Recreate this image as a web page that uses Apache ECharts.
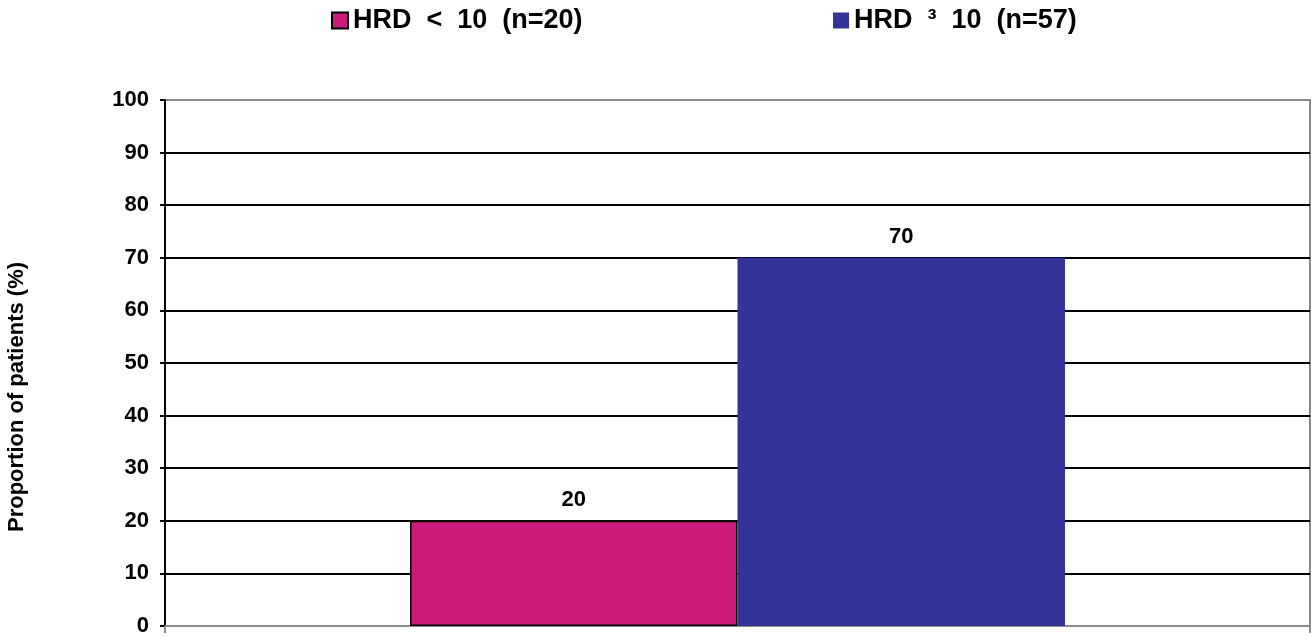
<!DOCTYPE html>
<html>
<head>
<meta charset="utf-8">
<script src="https://cdn.jsdelivr.net/npm/echarts@6/dist/echarts.min.js"></script>
<style>
  html, body { margin: 0; padding: 0; background: #fff; }
  #chart { width: 1311px; height: 637px; }
</style>
</head>
<body>
<div id="chart"></div>
<script>
// Groups and their values (% of patients)
const categories = [''];
const seriesNames = ['HRD  <  10  (n=20)', 'HRD  \u00B3  10  (n=57)'];
const lowHrd = [20];
const highHrd = [70];
const yTicks = [0, 10, 20, 30, 40, 50, 60, 70, 80, 90, 100];
const yTitle = 'Proportion of patients (%)';

const FONT = '"Liberation Sans", Arial, sans-serif';

// grid lines: bottom and top ones are the grey frame, the rest black
const splitColors = yTicks.map((v, i) => (i === 0 || i === yTicks.length - 1) ? '#8a8a8a' : '#000');

const legendText = { fontFamily: FONT, fontWeight: 'bold', fontSize: 27, color: '#000' };
const valueLabel = {
  show: true, position: 'top', distance: 10,
  fontFamily: FONT, fontWeight: 'bold', fontSize: 22, color: '#000'
};

const chart = echarts.init(document.getElementById('chart'), null, { renderer: 'canvas' });
chart.setOption({
  backgroundColor: '#fff',
  animation: false,
  textStyle: { fontFamily: FONT },
  grid: {
    left: 165, right: 1, top: 100, bottom: 10,
    show: true, borderColor: '#8a8a8a', borderWidth: 2, backgroundColor: 'transparent'
  },
  legend: [
    {
      data: [seriesNames[0]], left: 326, top: 2, icon: 'rect',
      itemWidth: 16, itemHeight: 16, itemGap: 10, textStyle: legendText
    },
    {
      data: [seriesNames[1]], left: 828, top: 2, icon: 'rect',
      itemWidth: 16, itemHeight: 16, itemGap: 10, textStyle: legendText
    }
  ],
  graphic: [{
    type: 'text',
    x: 17, y: 397,
    rotation: Math.PI / 2,
    style: {
      text: yTitle,
      font: 'bold 22px ' + FONT,
      fill: '#000',
      align: 'center',
      verticalAlign: 'middle'
    }
  }],
  xAxis: {
    type: 'category',
    data: categories,
    axisLine: { show: true, lineStyle: { color: '#8a8a8a', width: 2 } },
    axisTick: { show: true, length: 7, lineStyle: { color: '#8a8a8a', width: 2 } },
    axisLabel: { show: false },
    splitLine: { show: false }
  },
  yAxis: {
    type: 'value',
    min: 0, max: 100, interval: 10,
    axisLine: { show: true, lineStyle: { color: '#000', width: 2 } },
    axisTick: { show: true, length: 5, lineStyle: { color: '#000', width: 2 } },
    axisLabel: {
      fontFamily: FONT, fontWeight: 'bold', fontSize: 22, color: '#000', margin: 16,
      formatter: v => String(v)
    },
    splitLine: { show: true, lineStyle: { color: splitColors, width: 2 } }
  },
  series: [
    {
      name: seriesNames[0],
      type: 'bar',
      data: lowHrd,
      barGap: '0%',
      barCategoryGap: '42.8%',
      itemStyle: { color: '#CC1A7A', borderColor: '#000', borderWidth: 1.5 },
      label: valueLabel
    },
    {
      name: seriesNames[1],
      type: 'bar',
      data: highHrd,
      itemStyle: { color: '#333399' },
      label: valueLabel
    }
  ]
});
</script>
</body>
</html>
